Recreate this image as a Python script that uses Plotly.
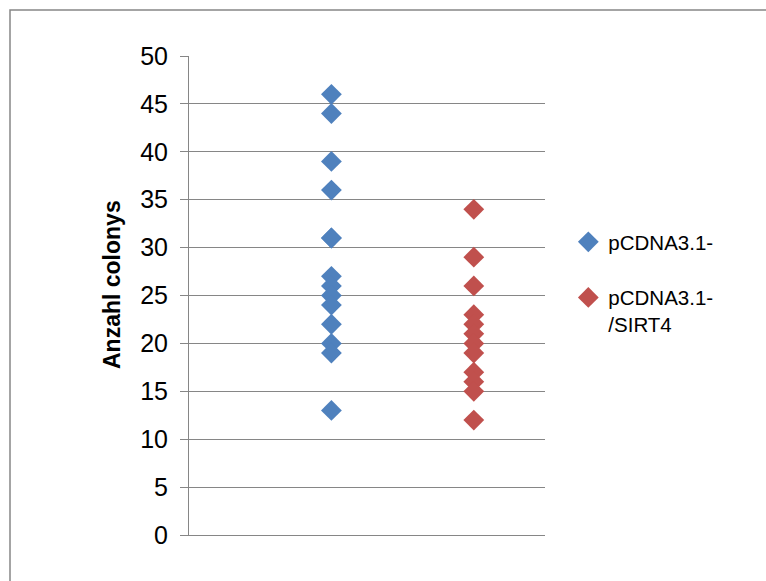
import plotly.graph_objects as go

series_names = ["pCDNA3.1-", "pCDNA3.1-<br>/SIRT4"]
blue_values = [46, 44, 39, 36, 31, 31, 27, 26, 25, 24, 22, 20, 19, 13]
red_values = [34, 29, 26, 23, 22, 21, 20, 19, 17, 16, 15, 12]
blue_x = 1
red_x = 2
y_ticks = [0, 5, 10, 15, 20, 25, 30, 35, 40, 45, 50]
y_title = "Anzahl colonys"

GRID = "#868686"
FONT = "Liberation Sans, Arial, sans-serif"

fig = go.Figure()
fig.add_trace(go.Scatter(
    x=[blue_x] * len(blue_values), y=blue_values, mode="markers",
    name=series_names[0], legendgroup="a",
    marker=dict(symbol="diamond", size=16, color="#4F81BD", line=dict(width=0)),
))
fig.add_trace(go.Scatter(
    x=[red_x] * len(red_values), y=red_values, mode="markers",
    name=series_names[1], legendgroup="b",
    marker=dict(symbol="diamond", size=16, color="#C0504D", line=dict(width=0)),
))

W, H = 766, 581
L, R, T, B = 189, 221, 56, 46
pw, ph = W - L - R, H - T - B

fig.update_layout(
    width=W, height=H,
    margin=dict(l=L, r=R, t=T, b=B, autoexpand=False),
    paper_bgcolor="white", plot_bgcolor="white",
    font=dict(family=FONT, color="black"),
    showlegend=True,
    legend=dict(
        x=(579 - L) / pw - 0.03, y=1 - (222 - T) / ph, xanchor="left", yanchor="top",
        font=dict(size=20.5, family=FONT),
        valign="top", traceorder="grouped", tracegroupgap=26, itemwidth=30,
        bgcolor="rgba(0,0,0,0)",
    ),
    xaxis=dict(
        range=[0, 2.5], showticklabels=False, ticks="", showgrid=False,
        zeroline=False, showline=True, linecolor=GRID, linewidth=1,
        fixedrange=True,
    ),
    yaxis=dict(
        range=[0, 50], tickvals=y_ticks, ticks="outside", ticklen=8,
        tickcolor=GRID, tickwidth=1, showgrid=True, gridcolor=GRID, gridwidth=1,
        zeroline=False, showline=True, linecolor=GRID, linewidth=1,
        tickfont=dict(size=25, family=FONT), ticklabelstandoff=7,
    ),
    annotations=[dict(
        text="<b>" + y_title + "</b>", textangle=-90,
        xref="paper", yref="paper",
        x=(112 - L) / pw, y=1 - (285 - T) / ph,
        xanchor="center", yanchor="middle", showarrow=False,
        font=dict(size=23, family=FONT, color="black"),
    )],
    shapes=[dict(
        type="rect", xref="paper", yref="paper",
        x0=(10 - L) / pw, x1=(W + 20 - L) / pw,
        y0=-(B + 20) / ph, y1=1 + (T - 10) / ph,
        line=dict(color=GRID, width=1.5), fillcolor="rgba(0,0,0,0)", layer="below",
    )],
)

fig.write_html("out.html")
